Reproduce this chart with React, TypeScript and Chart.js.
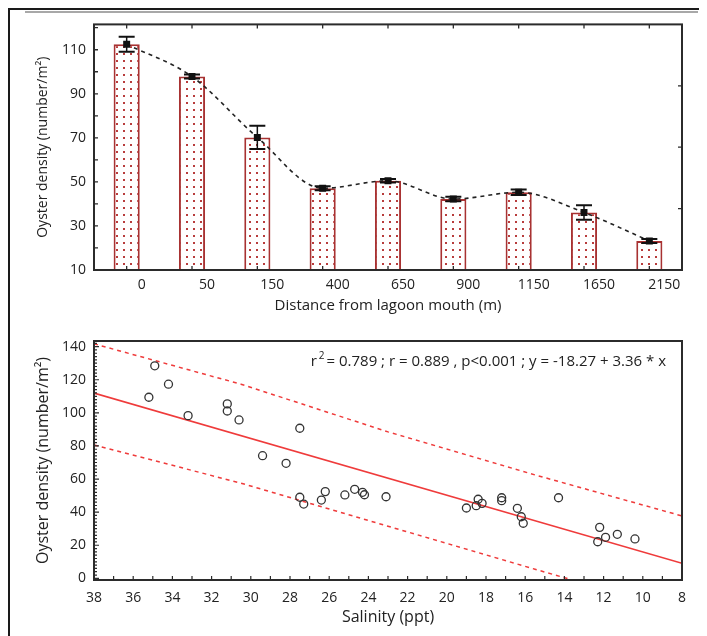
import React, { useEffect, useRef } from 'react';
import { Chart, registerables } from 'chart.js';

Chart.register(...registerables);

const FONT = "'Open Sans', sans-serif";
const INK = '#2b2b2b';
const RED = '#ef3b3b';

// ---------- Top chart data ----------
const distances = ['0', '50', '150', '400', '650', '900', '1150', '1650', '2150'];
const densityMean = [112.5, 97.8, 70.2, 47.1, 50.5, 42.2, 45.3, 36.1, 23.2];
const densityErr = [3.4, 0.9, 5.3, 0.9, 0.8, 1.0, 1.3, 3.3, 0.9];
const topYTicks = [10, 30, 50, 70, 90, 110];
const topYMinor = [10, 20, 30, 40, 50, 60, 70, 80, 90, 100, 110, 120];
const topRightTicks = [1, 2, 3];

// ---------- Bottom chart data ----------
const salinity = [
  35.2, 34.9, 34.2, 33.2, 31.2, 31.2, 30.6, 27.5, 29.4, 28.2, 27.5, 27.3, 26.4, 26.2, 25.2, 24.7, 24.3,
  24.2, 23.1, 19.0, 18.5, 18.4, 18.2, 17.2, 17.2, 16.4, 16.2, 16.1, 14.3, 12.2, 12.3, 11.9, 11.3, 10.4,
];
const oysters = [
  109.4, 128.4, 117.3, 98.3, 105.4, 101.1, 95.7, 90.7, 74.1, 69.5, 49.0, 44.9, 47.3, 52.4, 50.4, 53.8, 52.0,
  50.5, 49.3, 42.5, 43.9, 47.8, 45.3, 48.7, 46.9, 42.3, 37.2, 33.3, 48.7, 30.8, 22.1, 24.8, 26.6, 23.8,
];
const fitX = [38, 8];
const fitY = [111.9, 9.1];
const bandX = [38, 30.5, 23, 15.5, 8];
const bandUpper = [141.7, 117.3, 88.5, 62.5, 37.7];
const bandLower = [80.6, 57.5, 31.5, 5.5, -20];
const salTicks = [38, 36, 34, 32, 30, 28, 26, 24, 22, 20, 18, 16, 14, 12, 10, 8];
const botYTicks = [0, 20, 40, 60, 80, 100, 120, 140];
const statsText = '= 0.789 ; r = 0.889 , p<0.001 ; y = -18.27 + 3.36 * x';

function drawFrame(chart: any) {
  const { ctx, chartArea: a } = chart;
  ctx.save();
  ctx.strokeStyle = INK;
  ctx.lineWidth = 2;
  ctx.strokeRect(a.left, a.top, a.right - a.left, a.bottom - a.top);
  ctx.restore();
}

const topDecor = {
  id: 'topDecor',
  afterDatasetsDraw(chart: any) {
    const { ctx } = chart;
    const xs = chart.scales.x;
    const ys = chart.scales.y;
    ctx.save();
    ctx.strokeStyle = '#111';
    densityMean.forEach((m, i) => {
      const x = xs.getPixelForValue(i);
      const yt = ys.getPixelForValue(m + densityErr[i]);
      const yb = ys.getPixelForValue(m - densityErr[i]);
      ctx.lineWidth = 1.5;
      ctx.beginPath();
      ctx.moveTo(x, yt);
      ctx.lineTo(x, yb);
      ctx.stroke();
      ctx.lineWidth = 2;
      ctx.beginPath();
      ctx.moveTo(x - 8, yt);
      ctx.lineTo(x + 8, yt);
      ctx.moveTo(x - 8, yb);
      ctx.lineTo(x + 8, yb);
      ctx.stroke();
    });
    ctx.restore();
  },
  afterDraw(chart: any) {
    const { ctx, chartArea: a } = chart;
    const xs = chart.scales.x;
    const ys = chart.scales.y;
    const y2 = chart.scales.y2;
    drawFrame(chart);
    ctx.save();
    ctx.strokeStyle = INK;
    ctx.lineWidth = 1.3;
    ctx.beginPath();
    topYMinor.forEach((v) => {
      const y = ys.getPixelForValue(v);
      ctx.moveTo(a.left, y);
      ctx.lineTo(a.left + 4, y);
    });
    topRightTicks.forEach((v) => {
      const y = y2.getPixelForValue(v);
      ctx.moveTo(a.right, y);
      ctx.lineTo(a.right - 4, y);
    });
    distances.forEach((_, i) => {
      const x = xs.getPixelForValue(i);
      ctx.moveTo(x, a.top);
      ctx.lineTo(x, a.top + 4);
      ctx.moveTo(x, a.bottom);
      ctx.lineTo(x, a.bottom - 4);
    });
    ctx.stroke();
    ctx.restore();
  },
};

const botDecor = {
  id: 'botDecor',
  afterDraw(chart: any) {
    const { ctx, chartArea: a } = chart;
    const xs = chart.scales.x;
    const ys = chart.scales.y;
    drawFrame(chart);
    ctx.save();
    ctx.strokeStyle = INK;
    ctx.lineWidth = 1.2;
    ctx.beginPath();
    for (let v = 0; v <= 142; v += 2) {
      const y = ys.getPixelForValue(v);
      const len = v % 20 === 0 ? 5 : 3;
      ctx.moveTo(a.left, y);
      ctx.lineTo(a.left + len, y);
    }
    for (let v = 8; v <= 38; v += 1) {
      const x = xs.getPixelForValue(v);
      ctx.moveTo(x, a.bottom);
      ctx.lineTo(x, a.bottom - 4);
    }
    ctx.stroke();
    // stats annotation
    ctx.fillStyle = '#222';
    ctx.textBaseline = 'middle';
    const big = `15px ${FONT}`;
    const small = `10px ${FONT}`;
    ctx.font = big;
    const wR = ctx.measureText('r ').width;
    const wMain = ctx.measureText(statsText).width;
    ctx.font = small;
    const w2 = ctx.measureText('2').width;
    const total = wR + w2 + wMain;
    let x = a.right - 16 - total;
    const y = a.top + 21;
    ctx.font = big;
    ctx.fillText('r ', x, y);
    x += wR - 2;
    ctx.font = small;
    ctx.fillText('2', x, y - 6);
    x += w2 + 2;
    ctx.font = big;
    ctx.fillText(statsText, x, y);
    ctx.restore();
  },
};

function makePattern(): CanvasPattern | string {
  const pc = document.createElement('canvas');
  pc.width = 7;
  pc.height = 7;
  const p = pc.getContext('2d');
  if (!p) return '#fff';
  p.fillStyle = '#ffffff';
  p.fillRect(0, 0, 7, 7);
  p.fillStyle = '#b83c3c';
  p.fillRect(3, 3, 2, 2);
  const ctx = document.createElement('canvas').getContext('2d');
  return (ctx && ctx.createPattern(pc, 'repeat')) || '#fff';
}

export default function App() {
  const topRef = useRef<HTMLCanvasElement>(null);
  const botRef = useRef<HTMLCanvasElement>(null);

  useEffect(() => {
    Chart.defaults.font.family = FONT;
    Chart.defaults.color = '#222';
    const pattern = makePattern();

    const c1 = new Chart(topRef.current as HTMLCanvasElement, {
      type: 'bar',
      data: {
        labels: distances,
        datasets: [
          {
            type: 'line',
            data: densityMean,
            borderColor: '#222',
            borderWidth: 1.6,
            borderDash: [4, 4],
            cubicInterpolationMode: 'monotone',
            pointStyle: 'rect',
            pointRadius: 3.8,
            pointBackgroundColor: '#111',
            pointBorderColor: '#111',
            order: 0,
          } as any,
          {
            type: 'bar',
            data: densityMean,
            backgroundColor: pattern as any,
            borderColor: '#a83232',
            borderWidth: 2,
            barPercentage: 0.4,
            categoryPercentage: 1,
            base: 10,
            order: 1,
          } as any,
        ],
      },
      options: {
        responsive: false,
        animation: false,
        devicePixelRatio: 1,
        events: [],
        layout: { padding: { left: 0, right: 17, top: 16, bottom: 0 } },
        plugins: { legend: { display: false }, tooltip: { enabled: false } },
        scales: {
          x: {
            type: 'category',
            offset: true,
            grid: { display: false, drawTicks: false },
            border: { display: false },
            ticks: { font: { size: 14 }, color: '#222', padding: 7, labelOffset: 15, maxRotation: 0, autoSkip: false },
            title: {
              display: true,
              text: 'Distance from lagoon mouth (m)',
              font: { size: 15 },
              color: '#222',
              padding: { top: 0, bottom: 5 },
            },
            afterFit: (s: any) => {
              s.height = 50;
            },
          },
          y: {
            min: 10,
            max: 121.5,
            grid: { display: false, drawTicks: false },
            border: { display: false },
            ticks: { font: { size: 14 }, color: '#222', padding: 8 },
            afterBuildTicks: (s: any) => {
              s.ticks = topYTicks.map((v) => ({ value: v }));
            },
            title: {
              display: true,
              text: 'Oyster density (number/m²)',
              font: { size: 14 },
              color: '#222',
              padding: { top: 27, bottom: 0 },
            },
            afterFit: (s: any) => {
              s.width = 86;
            },
          },
          y2: {
            position: 'right',
            display: false,
            min: 0,
            max: 4,
          },
        },
      } as any,
      plugins: [topDecor],
    });

    const c2 = new Chart(botRef.current as HTMLCanvasElement, {
      type: 'scatter',
      data: {
        datasets: [
          {
            data: salinity.map((x, i) => ({ x, y: oysters[i] })),
            pointStyle: 'circle',
            pointRadius: 4,
            pointBorderWidth: 1.3,
            pointBorderColor: '#333',
            pointBackgroundColor: 'rgba(0,0,0,0)',
            order: 0,
          },
          {
            data: fitX.map((x, i) => ({ x, y: fitY[i] })),
            showLine: true,
            borderColor: RED,
            borderWidth: 1.6,
            pointRadius: 0,
            order: 1,
          },
          {
            data: bandX.map((x, i) => ({ x, y: bandUpper[i] })),
            showLine: true,
            borderColor: RED,
            borderWidth: 1.5,
            borderDash: [4, 4],
            pointRadius: 0,
            order: 2,
          },
          {
            data: bandX.map((x, i) => ({ x, y: bandLower[i] })),
            showLine: true,
            borderColor: RED,
            borderWidth: 1.5,
            borderDash: [4, 4],
            pointRadius: 0,
            order: 3,
          },
        ],
      },
      options: {
        responsive: false,
        animation: false,
        devicePixelRatio: 1,
        events: [],
        layout: { padding: { left: 0, right: 17, top: 21, bottom: 0 } },
        plugins: { legend: { display: false }, tooltip: { enabled: false } },
        scales: {
          x: {
            type: 'linear',
            min: 8,
            max: 38,
            reverse: true,
            grid: { display: false, drawTicks: false },
            border: { display: false },
            ticks: { font: { size: 14 }, color: '#222', padding: 10, maxRotation: 0 },
            afterBuildTicks: (s: any) => {
              s.ticks = salTicks.map((v) => ({ value: v }));
            },
            title: {
              display: true,
              text: 'Salinity (ppt)',
              font: { size: 16 },
              color: '#222',
              padding: { top: 0, bottom: 9 },
            },
            afterFit: (s: any) => {
              s.height = 56;
            },
          },
          y: {
            type: 'linear',
            min: -1,
            max: 143.4,
            grid: { display: false, drawTicks: false },
            border: { display: false },
            ticks: { font: { size: 14 }, color: '#222', padding: 8 },
            afterBuildTicks: (s: any) => {
              s.ticks = botYTicks.map((v) => ({ value: v }));
            },
            title: {
              display: true,
              text: 'Oyster density (number/m²)',
              font: { size: 16 },
              color: '#222',
              padding: { top: 26, bottom: 0 },
            },
            afterFit: (s: any) => {
              s.width = 86;
            },
          },
        },
      } as any,
      plugins: [botDecor],
    });

    return () => {
      c1.destroy();
      c2.destroy();
    };
  }, []);

  return (
    <div style={{ position: 'relative', width: 691, height: 628 }}>
      <div style={{ position: 'absolute', left: 0, top: 0, width: 692, height: 2, background: '#1a1a1a' }} />
      <div style={{ position: 'absolute', left: 17, top: 3, width: 673, height: 2, background: '#a8a8a8' }} />
      <div style={{ position: 'absolute', left: 0, top: 0, width: 2, height: 628, background: '#1a1a1a' }} />
      <canvas
        ref={topRef}
        width={691}
        height={312}
        style={{ position: 'absolute', left: 0, top: 0, width: 691, height: 312 }}
      />
      <canvas
        ref={botRef}
        width={691}
        height={316}
        style={{ position: 'absolute', left: 0, top: 312, width: 691, height: 316 }}
      />
    </div>
  );
}
